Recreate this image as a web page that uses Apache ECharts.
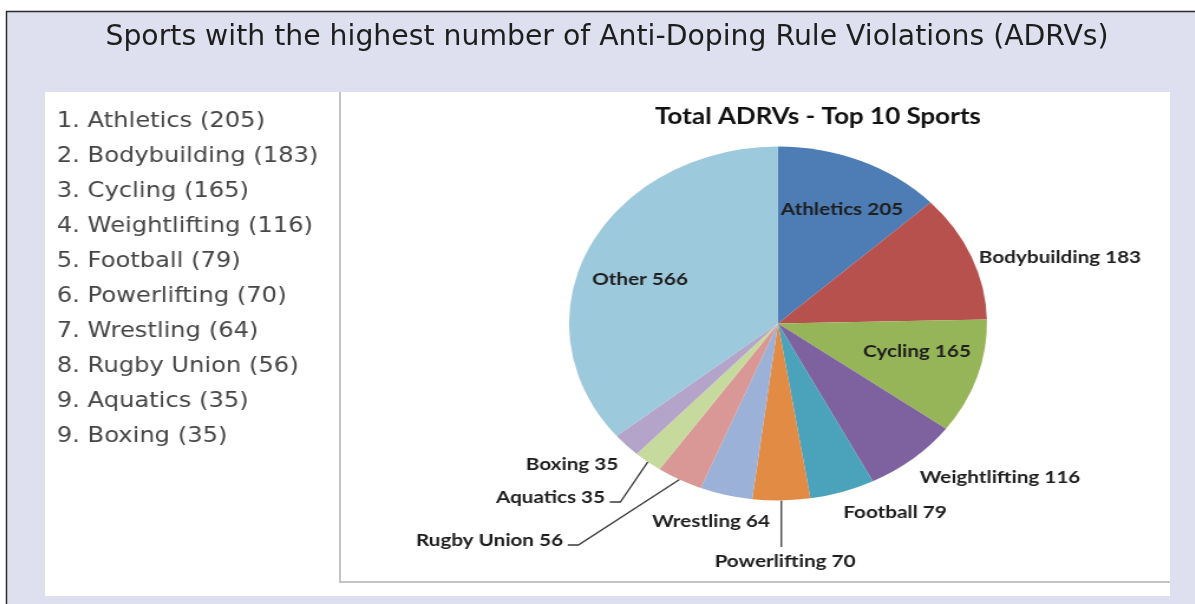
<!DOCTYPE html>
<html>
<head>
<meta charset="utf-8">
<script src="https://cdn.jsdelivr.net/npm/echarts@6/dist/echarts.min.js"></script>
<style>
html, body { margin: 0; padding: 0; }
body { width: 1195px; height: 604px; position: relative; overflow: hidden; background: #dee0ef; }
#frame { position: absolute; left: 0; top: 0; width: 1195px; height: 604px; }
/* the source picture is stretched sideways, so the inner chart is too */
#pie-chart { position: absolute; left: 45px; top: 92px; width: 953px; height: 504px; transform: scaleX(1.1805); transform-origin: 0 0; }
</style>
</head>
<body>
<div id="frame"></div>
<div id="pie-chart"></div>
<script>
const sports = ['Athletics', 'Bodybuilding', 'Cycling', 'Weightlifting', 'Football', 'Powerlifting', 'Wrestling', 'Rugby Union', 'Aquatics', 'Boxing']
const ranks = [1, 2, 3, 4, 5, 6, 7, 8, 9, 9]
const counts = [205, 183, 165, 116, 79, 70, 64, 56, 35, 35]
const otherName = 'Other'
const otherCount = 566

const sliceColors = ['#4d7db4', '#b6514e', '#96b558', '#7d629f', '#4aa3bb', '#e28b45', '#9cb1d7', '#d99896', '#c6da9d', '#b4a4c9', '#9cc9db']

// label spots in picture pixels (stretched space), one per slice, Other last
const labelSpots = [
  { x: 842, y: 209, align: 'center' },
  { x: 1060, y: 257, align: 'center' },
  { x: 917, y: 351, align: 'center' },
  { x: 1000, y: 477, align: 'center' },
  { x: 895, y: 512, align: 'center' },
  { x: 785, y: 561, align: 'center', line: 'down' },
  { x: 711, y: 521, align: 'center' },
  { x: 563, y: 540, align: 'right', line: 'tail' },
  { x: 605, y: 497, align: 'right', line: 'tail' },
  { x: 572, y: 464, align: 'center' },
  { x: 640, y: 279, align: 'center' }
]

const SX = 1.1805
const toU = x => (x - 45) / SX
const toV = y => y - 92

const pieData = sports.map((name, i) => ({
  name: name,
  value: counts[i],
  itemStyle: { color: sliceColors[i] },
  labelLine: { show: !!labelSpots[i].line }
}))
pieData.push({
  name: otherName,
  value: otherCount,
  itemStyle: { color: sliceColors[10] },
  labelLine: { show: false }
})

echarts.init(document.getElementById('frame')).setOption({
  animation: false,
  title: {
    text: 'Sports with the highest number of Anti-Doping Rule Violations (ADRVs)',
    left: 602,
    top: 19,
    textAlign: 'center',
    textStyle: { fontFamily: 'DejaVu Sans', fontSize: 28.3, fontWeight: 'normal', color: '#1e1e1e' }
  },
  graphic: [
    { type: 'rect', z: -10, shape: { x: 0, y: 0, width: 1195, height: 11 }, style: { fill: '#fff' } },
    { type: 'rect', z: -10, shape: { x: 0, y: 0, width: 6, height: 604 }, style: { fill: '#fff' } },
    { type: 'line', shape: { x1: 6, y1: 11.5, x2: 1195, y2: 11.5 }, style: { stroke: '#2b2b2b', lineWidth: 1.5 } },
    { type: 'line', shape: { x1: 6.5, y1: 11, x2: 6.5, y2: 604 }, style: { stroke: '#2b2b2b', lineWidth: 1.5 } },
    { type: 'rect', z: -5, shape: { x: 45, y: 92, width: 1125, height: 504 }, style: { fill: '#fff' } },
    { type: 'polyline', shape: { points: [[340, 92], [340, 582], [1170, 582]] }, style: { stroke: '#c4c4c4', lineWidth: 2, fill: null } }
  ]
})

echarts.init(document.getElementById('pie-chart')).setOption({
  animation: false,
  title: {
    text: 'Total ADRVs - Top 10 Sports',
    left: toU(818) - 5,
    top: 9,
    textAlign: 'center',
    textStyle: { fontFamily: 'Lato', fontSize: 22, fontWeight: 'bold', color: '#111' }
  },
  legend: {
    orient: 'vertical',
    left: 5,
    top: 12.5,
    padding: 0,
    itemWidth: 0,
    itemHeight: 0,
    itemGap: 0,
    selectedMode: false,
    data: sports,
    textStyle: { fontFamily: 'DejaVu Sans', fontSize: 20.5, color: '#464646', lineHeight: 35 },
    formatter: function (name) {
      const i = sports.indexOf(name)
      return ranks[i] + '. ' + name + ' (' + counts[i] + ')'
    }
  },
  series: [{
    type: 'pie',
    center: [toU(778), toV(323.5)],
    radius: 177,
    startAngle: 90,
    clockwise: true,
    avoidLabelOverlap: false,
    silent: true,
    itemStyle: { borderWidth: 0 },
    label: {
      show: true,
      formatter: '{b} {c}',
      fontFamily: 'Lato',
      fontSize: 17.5,
      fontWeight: 'bold',
      color: '#1e1e1e',
      overflow: 'none'
    },
    labelLine: { lineStyle: { color: '#3a3a3a', width: 1.3 } },
    labelLayout: function (params) {
      const spot = labelSpots[params.dataIndex]
      const x = toU(spot.x)
      const y = toV(spot.y)
      const out = { x: x, y: y, align: spot.align, verticalAlign: 'middle' }
      if (spot.line && params.labelLinePoints) {
        const s = params.labelLinePoints[0]
        out.labelLinePoints = spot.line === 'down'
          ? [s, [s[0], y - 14]]
          : [s, [x + 13, y + 5], [x + 4, y + 5]]
      }
      return out
    },
    data: pieData
  }]
})
</script>
</body>
</html>
